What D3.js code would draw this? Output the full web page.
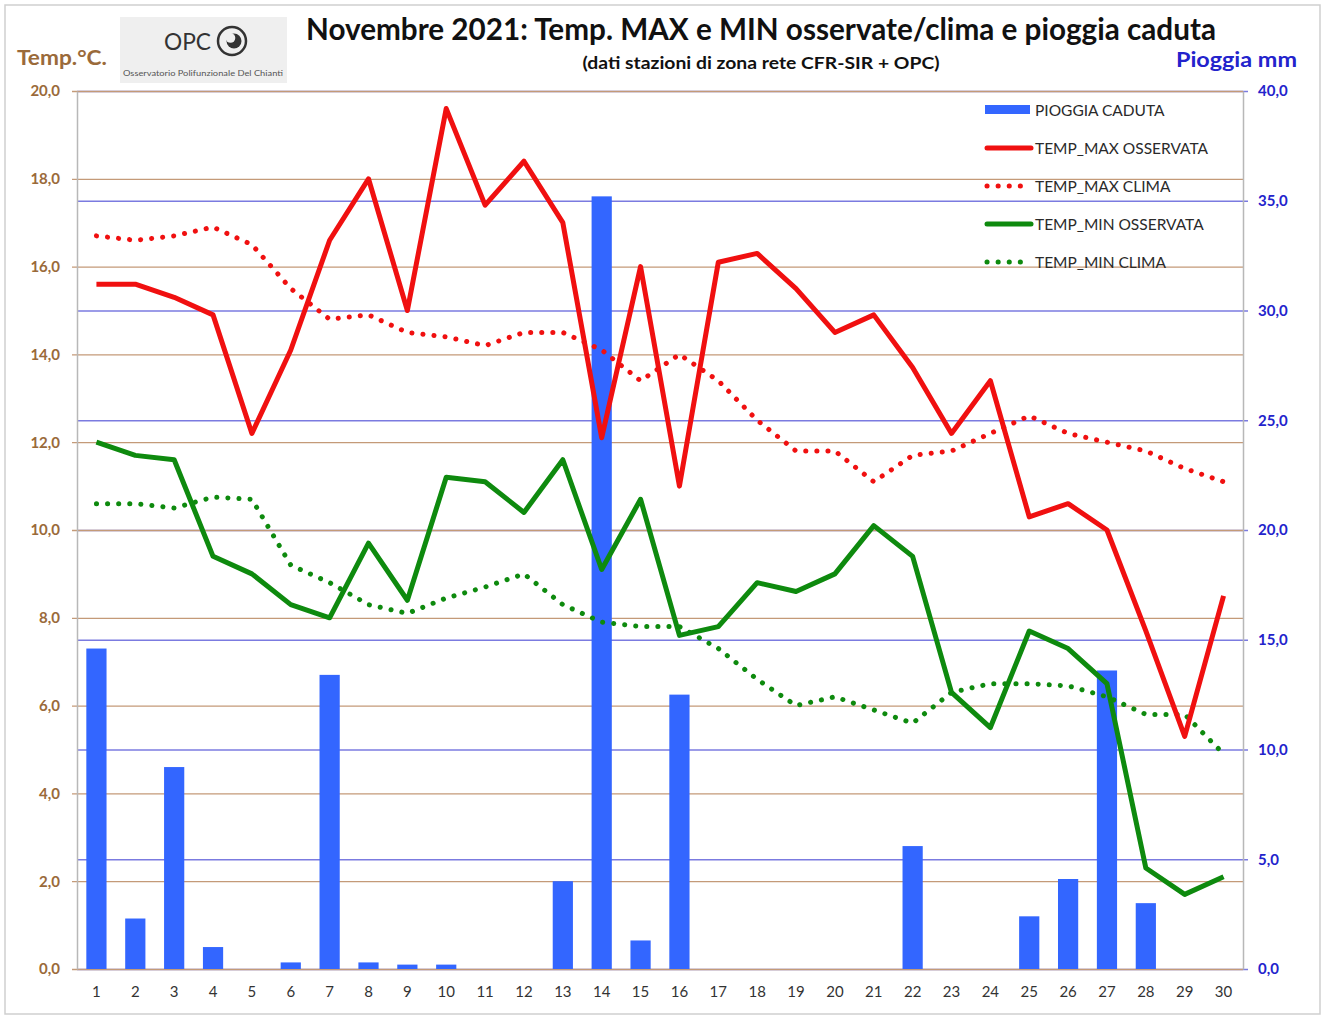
<!DOCTYPE html>
<html>
<head>
<meta charset="utf-8">
<script src="https://cdn.jsdelivr.net/npm/d3@7"></script>
<style>
  body { margin: 0; background: #fff; }
  svg text { font-family: Lato, "Open Sans", sans-serif; }
</style>
</head>
<body>
<div id="chart"></div>
<script>
'use strict';

// giorni del mese
var giorni = d3.range(1, 31);

// pioggia caduta (mm) - asse destro
var pioggia = [14.6, 2.3, 9.2, 1.0, 0, 0.3, 13.4, 0.3, 0.2, 0.2,
               0, 0, 4.0, 35.2, 1.3, 12.5, 0, 0, 0, 0,
               0, 5.6, 0, 0, 2.4, 4.1, 13.6, 3.0, 0, 0];

// temperature (°C) - asse sinistro
var tMaxOss = [15.6, 15.6, 15.3, 14.9, 12.2, 14.1, 16.6, 18.0, 15.0, 19.6,
               17.4, 18.4, 17.0, 12.1, 16.0, 11.0, 16.1, 16.3, 15.5, 14.5,
               14.9, 13.7, 12.2, 13.4, 10.3, 10.6, 10.0, 7.7, 5.3, 8.5];
var tMaxClima = [16.7, 16.6, 16.7, 16.9, 16.5, 15.5, 14.8, 14.9, 14.5, 14.4,
                 14.2, 14.5, 14.5, 14.1, 13.4, 14.0, 13.4, 12.5, 11.8, 11.8,
                 11.1, 11.7, 11.8, 12.2, 12.6, 12.2, 12.0, 11.8, 11.4, 11.1];
var tMinOss = [12.0, 11.7, 11.6, 9.4, 9.0, 8.3, 8.0, 9.7, 8.4, 11.2,
               11.1, 10.4, 11.6, 9.1, 10.7, 7.6, 7.8, 8.8, 8.6, 9.0,
               10.1, 9.4, 6.3, 5.5, 7.7, 7.3, 6.5, 2.3, 1.7, 2.1];
var tMinClima = [10.6, 10.6, 10.5, 10.75, 10.7, 9.2, 8.8, 8.3, 8.1, 8.45,
                 8.7, 9.0, 8.3, 7.9, 7.8, 7.8, 7.3, 6.6, 6.0, 6.2,
                 5.9, 5.6, 6.3, 6.5, 6.5, 6.45, 6.2, 5.8, 5.8, 4.9];

// tick degli assi
var tickTemp = d3.range(0, 20.01, 2);
var tickPioggia = d3.range(0, 40.01, 5);

var legendaVoci = ['PIOGGIA CADUTA', 'TEMP_MAX OSSERVATA', 'TEMP_MAX CLIMA', 'TEMP_MIN OSSERVATA', 'TEMP_MIN CLIMA'];

function graficoMeteo()
{
    var scope = this || {};
    var exports = {};

    scope.W = 1325;
    scope.H = 1017;
    scope.margins = {top: 91, bottom: 48, left: 77, right: 82};
    scope.cw = scope.W - scope.margins.left - scope.margins.right;
    scope.ch = scope.H - scope.margins.top - scope.margins.bottom;

    scope.colBrown = '#9a6a3a';
    scope.colGridBrown = '#c49a78';
    scope.colGridBlue = '#7b7be0';
    scope.colBlueText = '#2323cc';
    scope.colBar = '#3366ff';
    scope.colRed = '#f01010';
    scope.colGreen = '#0e8a0e';

    scope.appendSvg = function(div)
    {
        return d3.select(div).append('svg')
            .attr('width', scope.W)
            .attr('height', scope.H);
    }

    scope.createScales = function()
    {
        scope.xScale = d3.scaleBand().domain(giorni).range([0, scope.cw]).paddingInner(0.48).paddingOuter(0.24);
        scope.xPoint = function(d){ return scope.xScale(d) + scope.xScale.bandwidth() / 2; };
        scope.yScale = d3.scaleLinear().domain([0, 20]).range([scope.ch, 0]);
        scope.y2Scale = d3.scaleLinear().domain([0, 40]).range([scope.ch, 0]);
    }

    scope.fmt = function(v){ return d3.format('.1f')(v).replace('.', ','); };

    scope.createGrid = function(chart)
    {
        // griglia pioggia (blu), con tacca a destra
        var g2 = chart.append('g')
            .attr('class', 'grid2')
            .attr('transform', 'translate(' + (scope.cw + 5) + ',0)')
            .call(d3.axisLeft(scope.y2Scale).tickValues(tickPioggia).tickSize(scope.cw + 5).tickFormat(''));
        g2.select('.domain').remove();
        g2.selectAll('line').style('stroke', scope.colGridBlue).style('stroke-width', 1.3);

        // griglia temperatura (marrone), con tacca a sinistra
        var g1 = chart.append('g')
            .attr('class', 'grid1')
            .attr('transform', 'translate(-5,0)')
            .call(d3.axisRight(scope.yScale).tickValues(tickTemp).tickSize(scope.cw + 5).tickFormat(''));
        g1.select('.domain').remove();
        g1.selectAll('line').style('stroke', scope.colGridBrown).style('stroke-width', 1.3);
    }

    scope.createAxes = function(chart)
    {
        var yAxis = chart.append('g')
            .attr('class', 'yAxis')
            .call(d3.axisLeft(scope.yScale).tickValues(tickTemp).tickSize(0).tickPadding(17).tickFormat(scope.fmt));
        yAxis.select('.domain').style('stroke', '#b8b8b8').style('stroke-width', 1.5);
        yAxis.selectAll('text')
            .style('font-size', '15px').style('font-weight', 'bold').style('fill', scope.colBrown);

        var y2Axis = chart.append('g')
            .attr('class', 'y2Axis')
            .attr('transform', 'translate(' + scope.cw + ',0)')
            .call(d3.axisRight(scope.y2Scale).tickValues(tickPioggia).tickSize(0).tickPadding(15).tickFormat(scope.fmt));
        y2Axis.select('.domain').style('stroke', '#b8b8b8').style('stroke-width', 1.5);
        y2Axis.selectAll('text')
            .style('font-size', '15px').style('font-weight', 'bold').style('fill', scope.colBlueText);

        var xAxis = chart.append('g')
            .attr('class', 'xAxis')
            .attr('transform', 'translate(0,' + scope.ch + ')')
            .call(d3.axisBottom(scope.xScale).tickSize(0).tickPadding(17));
        xAxis.select('.domain').remove();
        xAxis.selectAll('text')
            .style('font-size', '15px').style('fill', '#333');
    }

    scope.appendRects = function(chart)
    {
        chart.append('g').selectAll('rect')
            .data(pioggia)
            .enter()
            .append('rect')
            .attr('x', function(d, i){ return scope.xScale(giorni[i]); })
            .attr('y', function(d){ return scope.y2Scale(d); })
            .attr('width', scope.xScale.bandwidth())
            .attr('height', function(d){ return scope.ch - scope.y2Scale(d); })
            .style('fill', scope.colBar);
    }

    scope.appendLine = function(chart, serie, colore, tratteggio)
    {
        var line = d3.line()
            .x(function(d, i){ return scope.xPoint(giorni[i]); })
            .y(function(d){ return scope.yScale(d); });

        var path = chart.append('path')
            .datum(serie)
            .attr('d', line)
            .style('fill', 'none')
            .style('stroke', colore)
            .style('stroke-width', 5)
            .style('stroke-linejoin', 'round');
        if (tratteggio) {
            path.style('stroke-dasharray', '0.1 11').style('stroke-linecap', 'round');
        }
    }

    scope.appendLegend = function(svg)
    {
        var stili = [
            {col: scope.colBar, bar: true},
            {col: scope.colRed},
            {col: scope.colRed, dot: true},
            {col: scope.colGreen},
            {col: scope.colGreen, dot: true}
        ];
        var leg = svg.append('g').attr('class', 'legend').attr('transform', 'translate(985,110)');
        var row = leg.selectAll('g').data(legendaVoci).enter().append('g')
            .attr('transform', function(d, i){ return 'translate(0,' + (i * 38) + ')'; });

        row.each(function(d, i){
            var r = d3.select(this);
            var s = stili[i];
            if (s.bar) {
                r.append('rect').attr('x', 0).attr('y', -5).attr('width', 45).attr('height', 9).style('fill', s.col);
            } else {
                var l = r.append('line').attr('x1', 2).attr('x2', 46).attr('y1', 0).attr('y2', 0)
                    .style('stroke', s.col).style('stroke-width', 5).style('stroke-linecap', 'round');
                if (s.dot) l.style('stroke-dasharray', '0.1 11');
            }
        });
        row.append('text')
            .attr('x', 50)
            .attr('y', 5.5)
            .style('font-size', '15.5px')
            .style('fill', '#2a2a2a')
            .text(function(d){ return d; });
    }

    scope.appendTitles = function(svg)
    {
        svg.append('rect')
            .attr('x', 5).attr('y', 5).attr('width', scope.W - 10).attr('height', scope.H - 8)
            .style('fill', 'none').style('stroke', '#cfcfcf').style('stroke-width', 1.5);

        svg.append('text')
            .attr('x', 761).attr('y', 40)
            .style('text-anchor', 'middle')
            .style('font-size', '29.5px').style('font-weight', 'bold').style('fill', '#111')
            .attr('textLength', 910).attr('lengthAdjust', 'spacingAndGlyphs')
            .text('Novembre 2021: Temp. MAX e MIN osservate/clima e pioggia caduta');

        svg.append('text')
            .attr('x', 761).attr('y', 69)
            .style('text-anchor', 'middle')
            .style('font-size', '17.5px').style('font-weight', 'bold').style('fill', '#111')
            .attr('textLength', 357).attr('lengthAdjust', 'spacingAndGlyphs')
            .text('(dati stazioni di zona rete CFR-SIR + OPC)');

        svg.append('text')
            .attr('x', 17).attr('y', 65)
            .style('font-size', '21px').style('font-weight', 'bold').style('fill', scope.colBrown)
            .attr('textLength', 90).attr('lengthAdjust', 'spacingAndGlyphs')
            .text('Temp.°C.');

        svg.append('text')
            .attr('x', 1176).attr('y', 67)
            .style('font-size', '21.5px').style('font-weight', 'bold').style('fill', scope.colBlueText)
            .attr('textLength', 121).attr('lengthAdjust', 'spacingAndGlyphs')
            .text('Pioggia mm');

        // logo OPC
        var logo = svg.append('g').attr('class', 'logo');
        logo.append('rect').attr('x', 120).attr('y', 17).attr('width', 167).attr('height', 66).style('fill', '#efefef');
        logo.append('text').attr('x', 164).attr('y', 50)
            .style('font-size', '23px').style('fill', '#333')
            .attr('textLength', 47).attr('lengthAdjust', 'spacingAndGlyphs')
            .text('OPC');
        logo.append('circle').attr('cx', 232).attr('cy', 41).attr('r', 14)
            .style('fill', 'none').style('stroke', '#333').style('stroke-width', 2.5);
        logo.append('circle').attr('cx', 234).attr('cy', 41).attr('r', 7.5).style('fill', '#333');
        logo.append('circle').attr('cx', 230.5).attr('cy', 38).attr('r', 4.8).style('fill', '#efefef');
        logo.append('text').attr('x', 203).attr('y', 76)
            .style('text-anchor', 'middle')
            .style('font-size', '7.5px').style('fill', '#555')
            .attr('textLength', 160).attr('lengthAdjust', 'spacingAndGlyphs')
            .text('Osservatorio Polifunzionale Del Chianti');
    }

    exports.run = function(div)
    {
        var svg = scope.appendSvg(div);
        scope.createScales();
        scope.appendTitles(svg);

        var cht = svg.append('g')
            .attr('transform', 'translate(' + scope.margins.left + ',' + scope.margins.top + ')');

        scope.createGrid(cht);
        scope.appendRects(cht);
        scope.createAxes(cht);
        scope.appendLine(cht, tMaxClima, scope.colRed, true);
        scope.appendLine(cht, tMinClima, scope.colGreen, true);
        scope.appendLine(cht, tMaxOss, scope.colRed, false);
        scope.appendLine(cht, tMinOss, scope.colGreen, false);
        scope.appendLegend(svg);
    }

    return exports;
}

graficoMeteo.call({}).run('#chart');
</script>
</body>
</html>
